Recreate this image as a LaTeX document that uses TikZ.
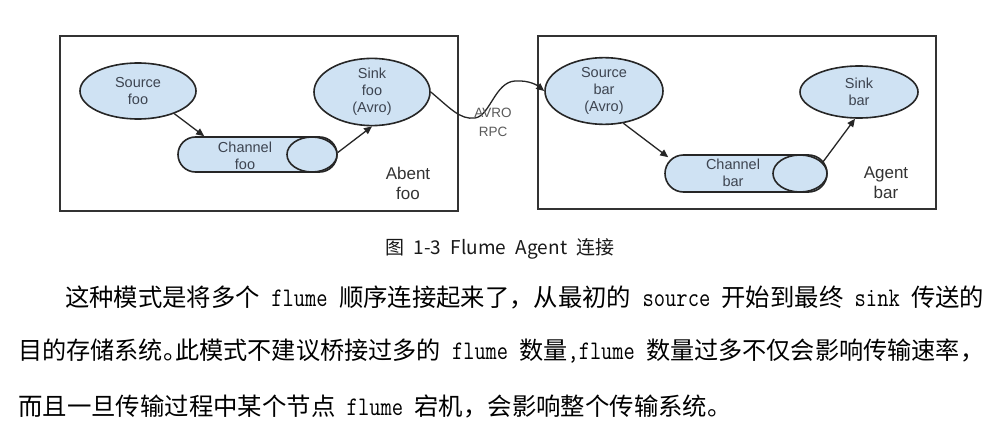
\documentclass[tikz,border=0pt]{standalone}
\usepackage{fontspec}
\usepackage{graphicx}
\setmainfont{Liberation Sans}
\newfontfamily\cjk{Noto Sans CJK SC}
\usetikzlibrary{arrows.meta,shapes.geometric}
\definecolor{nodefill}{HTML}{CFE2F3}
\definecolor{edgecol}{HTML}{262626}
\definecolor{labeltext}{HTML}{3D4450}
\definecolor{rpctext}{HTML}{5A5A5A}
\definecolor{boxcol}{HTML}{333333}
\newcommand\lat[1]{\scalebox{0.9}[1.1]{\ttfamily #1}}
\newcommand\halfpunct[1]{\makebox[0.5em][l]{#1}}
\begin{document}
\begin{tikzpicture}[x=1pt,y=-1pt,
  agentbox/.style={rectangle, draw=boxcol, line width=1.8pt, inner sep=0pt},
  blob/.style={ellipse, draw=edgecol, line width=1.6pt, fill=nodefill,
    minimum width=116pt, minimum height=56pt, inner sep=0pt, align=center,
    font=\fontsize{14.5}{17}\selectfont, text=labeltext},
  pill/.style={rectangle, rounded corners=17.5pt, draw=edgecol, line width=1.6pt,
    fill=nodefill, minimum height=35pt, inner sep=0pt},
  pillend/.style={ellipse, draw=edgecol, line width=1.6pt, fill=nodefill,
    minimum height=35pt, inner sep=0pt},
  nodetxt/.style={align=center, inner sep=0pt, font=\fontsize{14.5}{17}\selectfont, text=labeltext},
  agentlbl/.style={align=center, inner sep=0pt, font=\fontsize{17}{20}\selectfont, text=boxcol},
  rpc/.style={align=center, inner sep=0pt, font=\fontsize{13.5}{19}\selectfont, text=rpctext},
  arr/.style={-{Triangle[length=8pt,width=7pt]}, line width=1.3pt, draw=edgecol},
  captionstyle/.style={inner sep=0pt, font=\cjk\fontsize{19}{21}\selectfont, text=black!90},
  bodyline/.style={inner sep=0pt, anchor=base west, font=\cjk\fontsize{24.4}{26}\selectfont, text=black}
]
\useasboundingbox (0,0) rectangle (1000,433);
\fill[white] (0,0) rectangle (1000,433);

% agent boxes
\node[agentbox, minimum width=398pt, minimum height=175pt] (agentfoo) at (259,123.5) {};
\node[agentbox, minimum width=398pt, minimum height=173pt] (agentbar) at (737,122.5) {};

% agent foo
\node[blob] (srcfoo) at (138,91) {Source\\foo};
\node[blob] (sinkfoo) at (372,92) {Sink\\foo\\(Avro)};
\node[pill, minimum width=159pt] (chfoo) at (257.5,154.5) {};
\node[pillend, minimum width=50pt] (chfooend) at (312,154.5) {};
\node[nodetxt] (chfootxt) at (245,156) {Channel\\foo};
\node[agentlbl] (lblfoo) at (408,183) {Abent\\foo};

% agent bar
\node[blob, minimum width=118pt, minimum height=58pt] (srcbar) at (604,91) {Source\\bar\\(Avro)};
\node[blob, minimum width=118pt, minimum height=52pt] (sinkbar) at (859,92) {Sink\\bar};
\node[pill, minimum width=162pt, minimum height=37pt, rounded corners=18.5pt] (chbar) at (746,173.5) {};
\node[pillend, minimum width=54pt, minimum height=37pt] (chbarend) at (800,173.5) {};
\node[nodetxt] (chbartxt) at (733,172.5) {Channel\\bar};
\node[agentlbl] (lblbar) at (886,183) {Agent\\bar};

% arrows
\draw[arr] (srcfoo.-32) -- ([xshift=27pt]chfoo.north west);
\draw[arr] ([yshift=2pt]chfoo.east) -- (sinkfoo.south);
\draw[arr] (srcbar.-59) -- ([xshift=4pt,yshift=-3pt]chbar.north west);
\draw[arr] ([xshift=-6pt,yshift=10pt]chbar.east) -- ([xshift=-4pt]sinkbar.south);

% avro rpc link
\draw[arr] (sinkfoo.east) .. controls (450,108) and (460,120) .. (475,118)
  .. controls (490,116) and (495,82) .. (515,81)
  .. controls (530,80) and (538,86) .. (srcbar.west);
\node[rpc] (rpclabel) at (493,122) {AVRO\\RPC};

% caption
\node[captionstyle] (caption) at (500,249) {图\hspace{9.5pt}1-3\hspace{9.5pt}Flume\hspace{9.5pt}Agent\hspace{9.5pt}连接};

% body text
\node[bodyline] (line1) at (65,306) {\resizebox{919pt}{\height}{这种模式是将多个\lat{\ flume\ }顺序连接起来了，从最初的\lat{\ source\ }开始到最终\lat{\ sink\ }传送的}};
\node[bodyline] (line2) at (18,359) {\resizebox{966pt}{\height}{目的存储系统\halfpunct{。}此模式不建议桥接过多的\lat{\ flume\ }数量\lat{,flume\ }数量过多不仅会影响传输速率，}};
\node[bodyline] (line3) at (18,415) {而且一旦传输过程中某个节点\lat{\ flume\ }宕机，会影响整个传输系统。};
\end{tikzpicture}
\end{document}
